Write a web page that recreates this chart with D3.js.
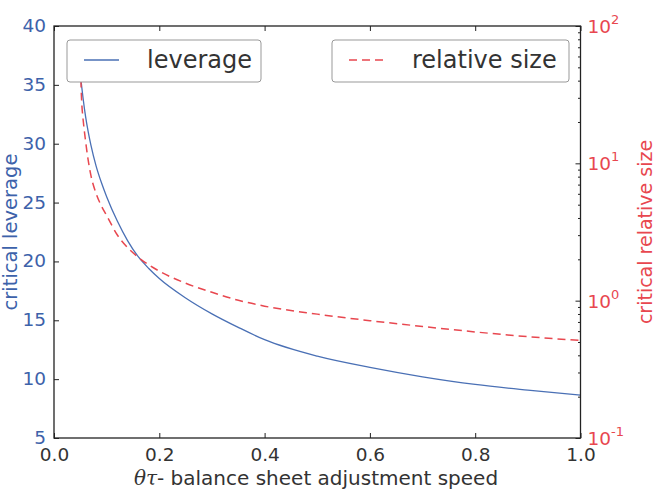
<!DOCTYPE html>
<html><head><meta charset="utf-8">
<script src="https://cdn.jsdelivr.net/npm/d3@7"></script>
<style>body{margin:0;background:#fff}svg{display:block;font-family:"DejaVu Sans",sans-serif}</style>
</head><body><svg id="c" width="656" height="490"></svg>
<script>
// x: theta_tau - balance sheet adjustment speed
const xValues = [0.05,0.051,0.052,0.053,0.055,0.06,0.065,0.07,0.08,0.09,0.1,0.12,0.14,0.16,0.18,0.2,0.25,0.3,0.35,0.4,0.5,0.6,0.7,0.8,0.9,1.0];
const leverage = [35.9,35.5,35.1,34.7,33.95,32.3,31.0,29.9,28.1,26.7,25.5,23.45,21.75,20.4,19.4,18.55,16.9,15.55,14.4,13.35,11.95,11.0,10.2,9.55,9.07,8.65];
const relSize = [63,42,31.6,26.3,21.4,14.5,10.5,8.2,6.03,4.9,4.17,3.02,2.43,2.07,1.82,1.64,1.34,1.15,1.007,0.912,0.798,0.715,0.649,0.592,0.547,0.513];
const xTicks = [0.0,0.2,0.4,0.6,0.8,1.0];
const leftTicks = [5,10,15,20,25,30,35,40];
const rightTicks = [0.1,1,10,100];
const rightTickExp = ["-1","0","1","2"];

const blue = "#4a70b5", blueTxt = "#3d62aa", red = "#e8474f", txt = "#333";
const L = 54, R = 580.5, T = 26, B = 438;
const svg = d3.select("#c");
const x = d3.scaleLinear().domain([0,1]).range([L,R]);
const yL = d3.scaleLinear().domain([5,40]).range([B,T]);
const yR = d3.scaleLog().domain([0.1,100]).range([B,T]);

// lines
const data = xValues.map((v,i)=>({x:v,l:leverage[i],r:relSize[i]}));
svg.append("path").datum(data).attr("fill","none").attr("stroke",blue).attr("stroke-width",1.3)
  .attr("d", d3.line().x(d=>x(d.x)).y(d=>yL(d.l)).curve(d3.curveMonotoneX));
svg.append("path").datum(data).attr("fill","none").attr("stroke",red).attr("stroke-width",1.5)
  .attr("stroke-dasharray","8,5")
  .attr("d", d3.line().x(d=>x(d.x)).y(d=>yR(d.r)).curve(d3.curveMonotoneX));

// axes (ticks inward)
const tk = 5, tkm = 2.5;
const gx = svg.append("g").attr("transform",`translate(0,${B})`)
  .call(d3.axisBottom(x).tickValues(xTicks).tickFormat(d3.format(".1f")).tickSizeInner(-tk).tickSizeOuter(0).tickPadding(10));
const gxt = svg.append("g").attr("transform",`translate(0,${T})`)
  .call(d3.axisTop(x).tickValues(xTicks).tickFormat("").tickSizeInner(-tk).tickSizeOuter(0));
const gl = svg.append("g").attr("transform",`translate(${L},0)`)
  .call(d3.axisLeft(yL).tickValues(leftTicks).tickSizeInner(-tk).tickSizeOuter(0).tickPadding(8));
const minor = [];
for (let e=-1;e<2;e++) for (let m=2;m<10;m++) minor.push(m*Math.pow(10,e));
const grm = svg.append("g").attr("transform",`translate(${R},0)`)
  .call(d3.axisRight(yR).tickValues(minor).tickFormat("").tickSizeInner(-tkm).tickSizeOuter(0));
const gr = svg.append("g").attr("transform",`translate(${R},0)`)
  .call(d3.axisRight(yR).tickValues(rightTicks).tickFormat("").tickSizeInner(-tk).tickSizeOuter(0));
[gx,gxt,gl,grm,gr].forEach(g=>{g.select(".domain").remove();g.selectAll("line").attr("stroke","#222");});
gx.selectAll("text").attr("fill",txt).style("font-size","18.5px").style("font-family","DejaVu Sans");
gl.selectAll("text").attr("fill",blueTxt).style("font-size","18.5px").style("font-family","DejaVu Sans").attr("dy","0.3em");

// right tick labels 10^n
rightTicks.forEach((v,i)=>{
  const t = svg.append("text").attr("x",R+7).attr("y",yR(v)+7).attr("fill",red)
    .style("font-size","18.5px");
  t.append("tspan").text("10");
  t.append("tspan").attr("dy",-9).style("font-size","13px").text(rightTickExp[i]);
});

// frame
svg.append("rect").attr("x",L).attr("y",T).attr("width",R-L).attr("height",B-T)
  .attr("fill","none").attr("stroke","#222").attr("stroke-width",1.3);

// axis labels
const xl = svg.append("text").attr("x",316).attr("y",485).attr("text-anchor","middle")
  .attr("fill",txt).style("font-size","20px");
xl.append("tspan").style("font-family","DejaVu Serif").style("font-style","italic").text("θτ");
xl.append("tspan").text("- balance sheet adjustment speed");
svg.append("text").attr("transform",`translate(17,${(T+B)/2}) rotate(-90)`).attr("text-anchor","middle")
  .attr("fill",blueTxt).style("font-size","19.5px").text("critical leverage");
svg.append("text").attr("transform",`translate(652,${(T+B)/2}) rotate(-90)`).attr("text-anchor","middle")
  .attr("fill",red).style("font-size","19px").text("critical relative size");

// legends
function legend(x0,x1,label,color,dash,lx0,lx1,tx){
  svg.append("rect").attr("x",x0).attr("y",40).attr("width",x1-x0).attr("height",42).attr("rx",3)
    .attr("fill","#fff").attr("stroke","#999").attr("stroke-width",1);
  svg.append("line").attr("x1",lx0).attr("x2",lx1).attr("y1",60).attr("y2",60)
    .attr("stroke",color).attr("stroke-width",dash?1.5:1.3).attr("stroke-dasharray",dash?"8,5":null);
  svg.append("text").attr("x",tx).attr("y",68).attr("fill",txt).style("font-size","24px").text(label);
}
legend(67,261,"leverage",blue,false,84,119,147);
legend(332,569,"relative size",red,true,349,386,412);
</script></body></html>
